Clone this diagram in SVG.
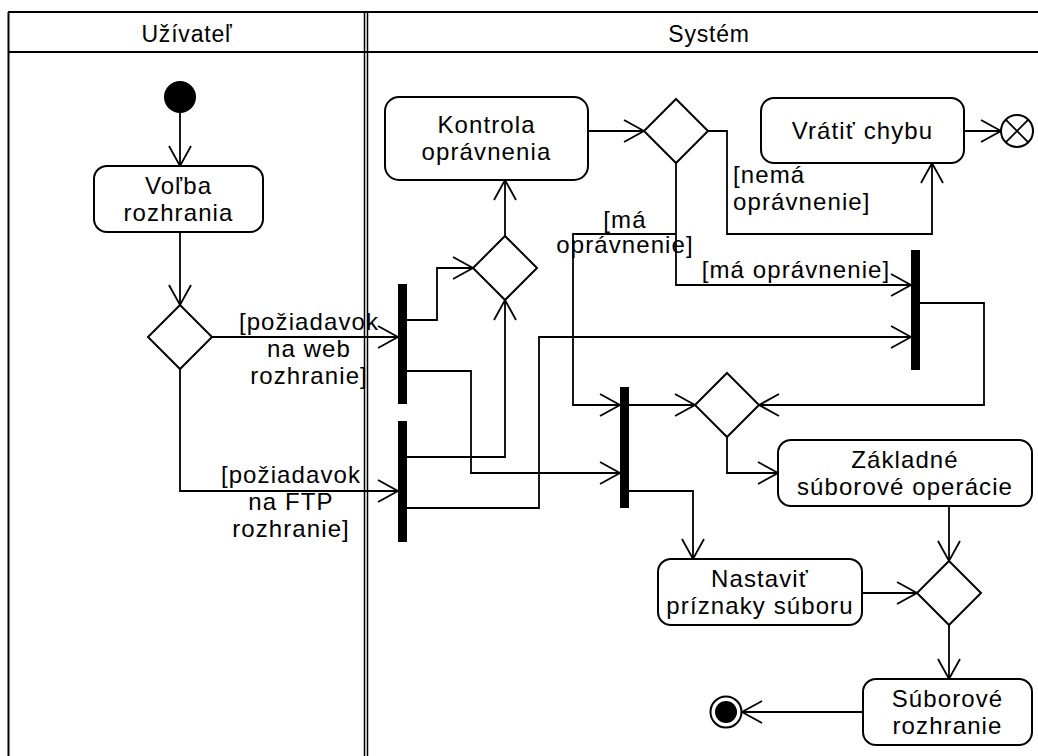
<svg xmlns="http://www.w3.org/2000/svg" width="1038" height="756" viewBox="0 0 1038 756">
  <defs>
    <marker id="open" markerUnits="userSpaceOnUse" markerWidth="24" markerHeight="26" viewBox="0 0 24 26" refX="22" refY="13" orient="auto">
      <path d="M2,2 L22,13 L2,24" fill="none" stroke="#000" stroke-width="1.8"/>
    </marker>
  </defs>
  <style>
    .frame{fill:none;stroke:#000;stroke-width:2}
    .sep{fill:none;stroke:#000;stroke-width:1.5}
    .ln{fill:none;stroke:#000;stroke-width:1.8}
    .arr{marker-end:url(#open)}
    .box{fill:#fff;stroke:#000;stroke-width:2}
    .dia{fill:#fff;stroke:#000;stroke-width:2}
    .bar{fill:#000}
    .t{font-family:"Liberation Sans",Arial,sans-serif;font-size:24px;letter-spacing:1.1px;fill:#000}
    .h{font-size:23px;letter-spacing:0.8px}
    .m{text-anchor:middle}
  </style>
  <rect width="1038" height="756" fill="#fff"/>

  <!-- swimlanes -->
  <g id="lanes">
    <path class="frame" d="M8,12 H1038 M8,52 H1038 M8.5,12 V756"/>
    <path class="sep" d="M364.5,12 V756 M367.5,12 V756"/>
    <text class="t h m" x="187" y="42">Užívateľ</text>
    <text class="t h m" x="709" y="42">Systém</text>
  </g>

  <!-- connectors -->
  <g id="connectors" class="ln">
    <path class="arr" d="M180,113 V166"/>
    <path class="arr" d="M180,232 V305"/>
    <path class="arr" d="M212,337 H398"/>
    <path class="arr" d="M180,369 V491 H398"/>
    <path class="arr" d="M407,320 H437 V268 H473"/>
    <path class="arr" d="M407,371 H471 V473 H620"/>
    <path class="arr" d="M407,457 H505 V300"/>
    <path class="arr" d="M407,508 H539 V337 H911"/>
    <path class="arr" d="M505,236 V180"/>
    <path class="arr" d="M588,131 H644"/>
    <path class="arr" d="M708,131 H727 V234 H932 V163"/>
    <path class="arr" d="M676,163 V285 H911"/>
    <path class="arr" d="M676,234 H573 V405 H620"/>
    <path class="arr" d="M964,131 H1001"/>
    <path class="arr" d="M920,303 H984 V405 H759"/>
    <path class="arr" d="M629,405 H695"/>
    <path class="arr" d="M727,437 V473 H778"/>
    <path class="arr" d="M629,491 H693 V559"/>
    <path class="arr" d="M949,506 V561"/>
    <path class="arr" d="M862,593 H917"/>
    <path class="arr" d="M949,625 V679"/>
    <path class="arr" d="M863,712 H742"/>
  </g>

  <!-- guard labels -->
  <g id="guards">
    <text class="t m" x="309" y="330">[požiadavok</text>
    <text class="t m" x="309" y="357">na web</text>
    <text class="t m" x="309" y="384">rozhranie]</text>
    <text class="t m" x="291" y="483">[požiadavok</text>
    <text class="t m" x="291" y="510">na FTP</text>
    <text class="t m" x="291" y="537">rozhranie]</text>
    <text class="t" x="733" y="183">[nemá</text>
    <text class="t" x="733" y="210">oprávnenie]</text>
    <text class="t m" x="625" y="228">[má</text>
    <text class="t m" x="625" y="253">oprávnenie]</text>
    <text class="t m" x="796" y="278">[má oprávnenie]</text>
  </g>

  <!-- nodes -->
  <g id="start"><circle cx="180" cy="97" r="16" fill="#000"/></g>

  <g id="volba">
    <rect class="box" x="94" y="166" width="169" height="66" rx="13"/>
    <text class="t m" x="178.5" y="194">Voľba</text>
    <text class="t m" x="178.5" y="221">rozhrania</text>
  </g>

  <g id="decision-interface"><path class="dia" d="M180,305 L212,337 L180,369 L148,337 Z"/></g>

  <g id="fork-web"><rect class="bar" x="398" y="284" width="9" height="120"/></g>
  <g id="fork-ftp"><rect class="bar" x="398" y="421" width="9" height="121"/></g>

  <g id="merge-auth"><path class="dia" d="M505,236 L537,268 L505,300 L473,268 Z"/></g>

  <g id="kontrola">
    <rect class="box" x="385" y="97" width="203" height="83" rx="14"/>
    <text class="t m" x="486.5" y="133">Kontrola</text>
    <text class="t m" x="486.5" y="160">oprávnenia</text>
  </g>

  <g id="decision-auth"><path class="dia" d="M676,99 L708,131 L676,163 L644,131 Z"/></g>

  <g id="vratit">
    <rect class="box" x="761" y="98" width="203" height="65" rx="13"/>
    <text class="t m" x="862.5" y="139">Vrátiť chybu</text>
  </g>

  <g id="flow-final">
    <circle cx="1017" cy="131" r="16" fill="#fff" stroke="#000" stroke-width="2"/>
    <path d="M1005.7,119.7 L1028.3,142.3 M1028.3,119.7 L1005.7,142.3" stroke="#000" stroke-width="1.8"/>
  </g>

  <g id="join-web"><rect class="bar" x="911" y="250" width="9" height="120"/></g>
  <g id="join-ftp"><rect class="bar" x="620" y="387" width="9" height="121"/></g>

  <g id="merge-ops"><path class="dia" d="M727,373 L759,405 L727,437 L695,405 Z"/></g>

  <g id="zakladne">
    <rect class="box" x="778" y="440" width="254" height="66" rx="13"/>
    <text class="t m" x="905" y="468">Základné</text>
    <text class="t m" x="905" y="495">súborové operácie</text>
  </g>

  <g id="nastavit">
    <rect class="box" x="658" y="559" width="204" height="66" rx="13"/>
    <text class="t m" x="760" y="587">Nastaviť</text>
    <text class="t m" x="760" y="614">príznaky súboru</text>
  </g>

  <g id="merge-final"><path class="dia" d="M949,561 L981,593 L949,625 L917,593 Z"/></g>

  <g id="suborove">
    <rect class="box" x="863" y="679" width="169" height="66" rx="13"/>
    <text class="t m" x="947.5" y="707">Súborové</text>
    <text class="t m" x="947.5" y="734">rozhranie</text>
  </g>

  <g id="final">
    <circle cx="726" cy="712" r="15.5" fill="#fff" stroke="#000" stroke-width="2"/>
    <circle cx="726" cy="712" r="11" fill="#000"/>
  </g>
</svg>
